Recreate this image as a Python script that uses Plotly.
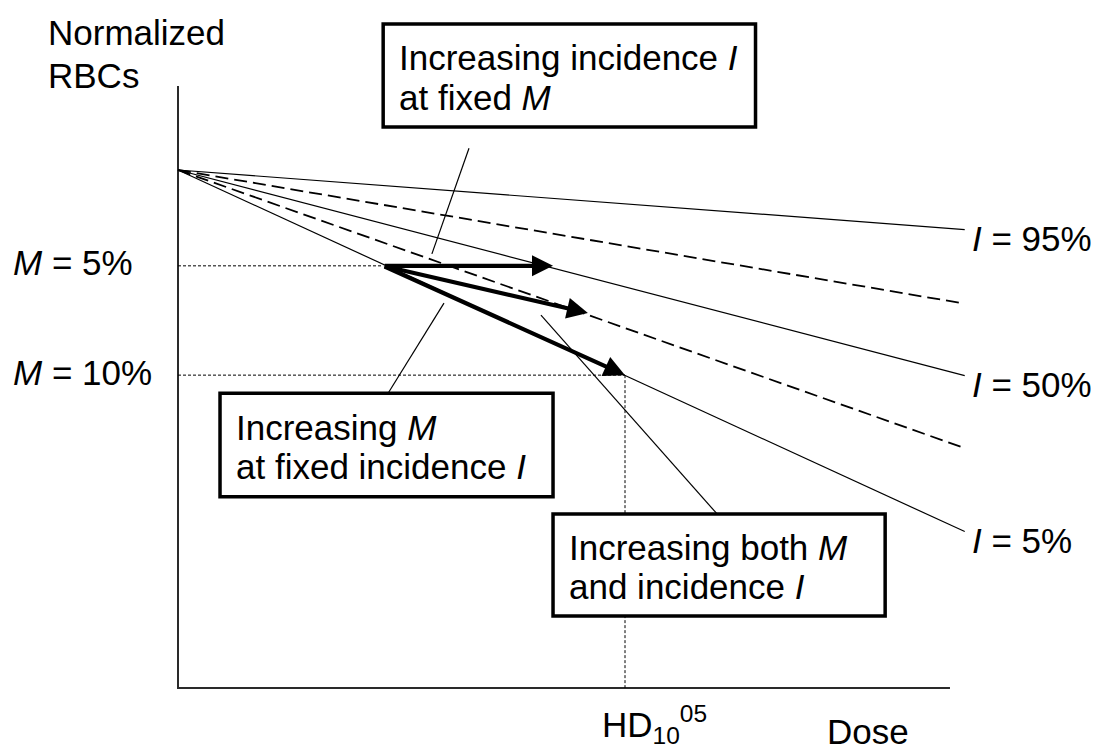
import plotly.graph_objects as go

# ---- data -------------------------------------------------------------
# Dose-response lines: all start at (dose 0, normalized RBCs 1) and end at DOSE_END
DOSE_END = 1.76
line_end_rbc = [0.885, 0.742, 0.603, 0.463, 0.302]
line_labels = ["<i>I</i> = 95%", "", "<i>I</i> = 50%", "", "<i>I</i> = 5%"]
line_styles = ["solid", "dash", "solid", "dash", "solid"]

# Reference levels of the reduction M, and where they meet the I = 5% line
m_labels = ["<i>M</i> = 5%", "<i>M</i> = 10%"]
m_rbc = [0.815, 0.604]
m_dose = [0.459, 1.0]

# Arrows starting at the M = 5% point on the I = 5% line
arrow_end_dose = [0.839, 0.917, 1.0]
arrow_end_rbc = [0.815, 0.724, 0.604]

# Axis extents
x_axis_end = 1.727
y_axis_end = 1.162

# Callout boxes: (dose0, dose1, rbc0, rbc1), text lines, leader line endpoints
box_text = [
    ["Increasing incidence <i>I</i>", "at fixed <i>M</i>"],
    ["Increasing <i>M</i>", "at fixed incidence <i>I</i>"],
    ["Increasing both <i>M</i>", "and incidence <i>I</i>"],
]
box_dose = [(0.459, 1.292), (0.094, 0.839), (0.839, 1.582)]
box_rbc = [(1.282, 1.083), (0.569, 0.369), (0.336, 0.139)]
leader_dose = [(0.651, 0.568), (0.595, 0.470), (0.812, 1.206)]
leader_rbc = [(1.042, 0.838), (0.743, 0.569), (0.720, 0.336)]

# ---- pixel frame -------------------------------------------------------
W, H = 1096, 751
PX0, PXK = 178, 447    # dose 0 -> x pixel, pixels per dose unit
PY0, PYK = 688, 518    # rbc 0 -> y pixel, pixels per rbc unit


def dx(px):
    return (px - PX0) / PXK


def dy(py):
    return (PY0 - py) / PYK


FONT = "Arial, Liberation Sans, sans-serif"
FS = 35

fig = go.Figure()

# Axes
fig.add_trace(go.Scatter(x=[0, 0, x_axis_end], y=[y_axis_end, 0, 0], mode="lines",
                         line=dict(color="#2a2a2a", width=2), hoverinfo="skip"))

# Dotted guide lines for M levels and the HD dose
for md, mr in zip(m_dose, m_rbc):
    fig.add_trace(go.Scatter(x=[0, md], y=[mr, mr], mode="lines",
                             line=dict(color="black", width=1, dash="3px,2px"),
                             hoverinfo="skip"))
fig.add_trace(go.Scatter(x=[m_dose[1], m_dose[1]], y=[m_rbc[1], 0], mode="lines",
                         line=dict(color="black", width=1, dash="3px,2px"),
                         hoverinfo="skip"))

# Dose-response lines
for r, st in zip(line_end_rbc, line_styles):
    if st == "solid":
        ln = dict(color="black", width=1.2)
    else:
        ln = dict(color="black", width=1.8, dash="13px,6px")
    fig.add_trace(go.Scatter(x=[0, DOSE_END], y=[1, r], mode="lines", line=ln,
                             hoverinfo="skip"))

shapes = []
annotations = []

# Leader lines
for (x0, x1), (y0, y1) in zip(leader_dose, leader_rbc):
    shapes.append(dict(type="line", xref="x", yref="y", x0=x0, y0=y0, x1=x1, y1=y1,
                       line=dict(color="black", width=1.2)))

# Boxes
for (x0, x1), (y0, y1) in zip(box_dose, box_rbc):
    shapes.append(dict(type="rect", xref="x", yref="y", x0=x0, x1=x1, y0=y0, y1=y1,
                       line=dict(color="black", width=3.5), fillcolor="white",
                       layer="above"))

# Box texts
for (x0, x1), (y0, y1), lines in zip(box_dose, box_rbc, box_text):
    h = y0 - y1
    for k, t in enumerate(lines):
        annotations.append(dict(x=x0 + dx(PX0 + 14), y=y0 - h * (0.33 + 0.38 * k),
                                xref="x", yref="y", text=t, showarrow=False,
                                xanchor="left", yanchor="middle",
                                font=dict(family=FONT, size=FS, color="black")))

# Thick arrows
for ex, ey in zip(arrow_end_dose, arrow_end_rbc):
    annotations.append(dict(x=ex, y=ey, ax=m_dose[0], ay=m_rbc[0], xref="x", yref="y",
                            axref="x", ayref="y", text="", showarrow=True,
                            arrowhead=2, arrowsize=1, arrowwidth=4.2,
                            arrowcolor="black"))

# Line labels
for r, t in zip(line_end_rbc, line_labels):
    if t:
        annotations.append(dict(x=dx(970), y=r - 0.017, xref="x", yref="y", text=t,
                                showarrow=False, xanchor="left", yanchor="middle",
                                font=dict(family=FONT, size=FS, color="black")))

# M labels
for r, t in zip(m_rbc, m_labels):
    annotations.append(dict(x=dx(11), y=r + 0.006, xref="x", yref="y", text=t,
                            showarrow=False, xanchor="left", yanchor="middle",
                            font=dict(family=FONT, size=FS, color="black")))

# Axis titles
annotations.append(dict(x=dx(46), y=dy(32), xref="x", yref="y", text="Normalized",
                        showarrow=False, xanchor="left", yanchor="middle",
                        font=dict(family=FONT, size=FS, color="black")))
annotations.append(dict(x=dx(46), y=dy(75), xref="x", yref="y", text="RBCs",
                        showarrow=False, xanchor="left", yanchor="middle",
                        font=dict(family=FONT, size=FS, color="black")))
annotations.append(dict(x=dx(825), y=dy(731), xref="x", yref="y", text="Dose",
                        showarrow=False, xanchor="left", yanchor="middle",
                        font=dict(family=FONT, size=FS, color="black")))
annotations.append(dict(x=dx(600), y=dy(724), xref="x", yref="y",
                        text="HD<sub>10</sub><sup>05</sup>",
                        showarrow=False, xanchor="left", yanchor="middle",
                        font=dict(family=FONT, size=FS, color="black")))

fig.update_layout(
    width=W, height=H,
    margin=dict(l=0, r=0, t=0, b=0),
    paper_bgcolor="white", plot_bgcolor="white",
    showlegend=False,
    xaxis=dict(range=[dx(0), dx(W)], visible=False, fixedrange=True),
    yaxis=dict(range=[dy(H), dy(0)], visible=False, fixedrange=True),
    shapes=shapes,
    annotations=annotations,
)

fig.write_html("out.html")
